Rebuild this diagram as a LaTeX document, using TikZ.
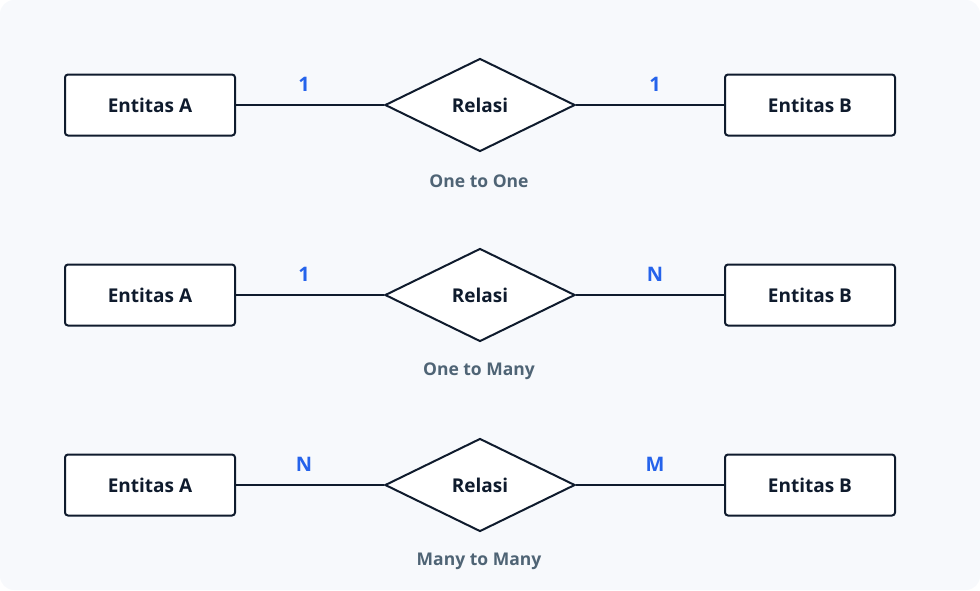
\documentclass[tikz,border=0pt]{standalone}
\usepackage{fontspec}
\setmainfont{Open Sans}
\usetikzlibrary{shapes.geometric}
\definecolor{bg}{HTML}{F7F9FC}
\definecolor{ink}{HTML}{0F1B2D}
\definecolor{lab}{HTML}{2563EB}
\definecolor{cap}{HTML}{4F6475}
\begin{document}
\begin{tikzpicture}[x=1pt,y=-1pt,
  ent/.style={draw=ink,line width=2pt,fill=white,rounded corners=3pt,minimum width=170pt,minimum height=61pt,font=\bfseries\fontsize{19}{22}\selectfont,text=ink},
  rel/.style={draw=ink,line width=2pt,fill=white,diamond,aspect=2.04,minimum width=190pt,minimum height=93pt,inner sep=0pt,font=\bfseries\fontsize{19}{22}\selectfont,text=ink},
  card/.style={font=\bfseries\fontsize{20}{24}\selectfont,text=lab},
  capt/.style={font=\bfseries\fontsize{17.5}{21}\selectfont,text=cap},
  ln/.style={draw=ink,line width=2pt}]
\useasboundingbox (0,0) rectangle (980,590);
\fill[bg,rounded corners=14pt] (0,0) rectangle (980,590);
\foreach \i/\y/\l/\r/\c in {1/105/1/1/One to One, 2/295/1/N/One to Many, 3/485/N/M/Many to Many}{
  \node[ent] (a\i) at (150,\y) {Entitas A};
  \node[rel] (r\i) at (480,\y) {Relasi};
  \node[ent] (b\i) at (810,\y) {Entitas B};
  \draw[ln] (a\i) -- (r\i);
  \draw[ln] (r\i) -- (b\i);
  \node[card] (l\i) at (304,\y-21) {\l};
  \node[card] (m\i) at (655,\y-21) {\r};
  \node[capt] (c\i) at (479,\y+76) {\c};
}
\end{tikzpicture}
\end{document}
